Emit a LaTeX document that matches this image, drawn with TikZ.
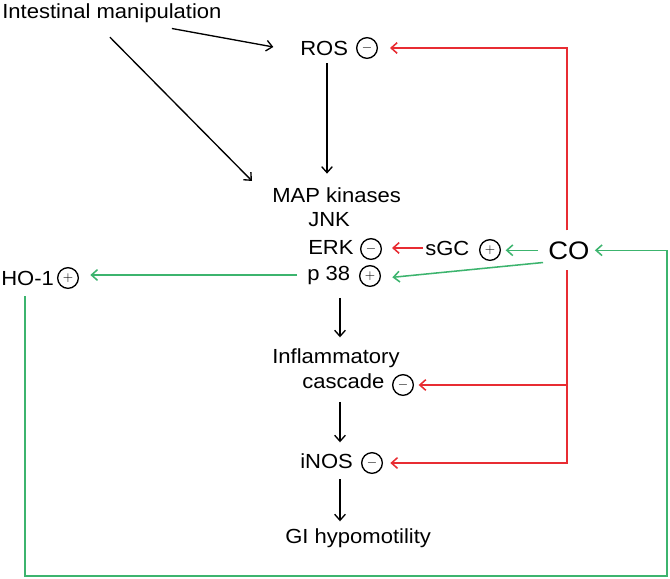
\documentclass[tikz,border=0pt]{standalone}
\usepackage{fontspec}
\setmainfont{Liberation Sans}[FakeStretch=1.08]
\usetikzlibrary{arrows.meta,calc}
\definecolor{cred}{RGB}{232,44,50}
\definecolor{cgreen}{RGB}{60,180,110}
\begin{document}
\begin{tikzpicture}[x=0.75pt,y=-0.75pt,
 txt/.style={inner sep=0pt,anchor=base west,font=\fontsize{15.3}{18}\selectfont},
 bigtxt/.style={txt,font=\fontsize{19}{22}\selectfont},
 sign/.style={circle,draw,line width=1pt,inner sep=0pt,minimum size=15.5pt,font=\fontsize{10}{10}\selectfont},
 barr/.style={line width=1pt,-{Straight Barb[length=4.5pt,width=8pt]}},
 rarr/.style={barr,draw=cred,line width=1.15pt},
 garr/.style={barr,draw=cgreen,line width=1.15pt}]
\fill[white] (0,0) rectangle (670,578);
\useasboundingbox (0,0) rectangle (670,578);
% nodes
\node[txt] (im) at (2,18) {Intestinal manipulation};
\node[txt] (ros) at (300,55) {ROS};
\node[sign] (rosc) at (367,48) {$-$};
\node[txt] (map) at (272,202) {MAP kinases};
\node[txt] (jnk) at (308,226) {JNK};
\node[txt] (erk) at (308,254) {ERK};
\node[sign] (erkc) at (371,249) {$-$};
\node[txt] (sgc) at (425,255) {sGC};
\node[sign] (sgcc) at (490,250) {$+$};
\node[bigtxt] (co) at (548,259) {CO};
\node[txt] (p38) at (307,280) {p 38};
\node[sign] (p38c) at (370,276) {$+$};
\node[txt] (ho1) at (1,285) {HO-1};
\node[sign] (ho1c) at (68,278) {$+$};
\node[txt] (infl) at (272,363) {Inflammatory};
\node[txt] (casc) at (302,388) {cascade};
\node[sign] (cascc) at (403,385) {$-$};
\node[txt] (inos) at (300,468) {iNOS};
\node[sign] (inosc) at (372,463) {$-$};
\node[txt] (gi) at (285,543) {GI hypomotility};
% helper coordinates
\coordinate (rx) at (327,0);
\coordinate (cx) at (340,0);
\coordinate (redx) at (567,0);
\coordinate (gbl) at (25,576);
\coordinate (gbr) at (667,576);
% black connectors
\draw[barr] ([shift={(45pt,-4.5pt)}]im.south) -- ([shift={(-20pt,0.75pt)}]ros.west);
\draw[barr] ([shift={(-1.5pt,-11pt)}]im.south) -- ([shift={(-15pt,4.5pt)}]map.north west);
\draw[barr, shorten <=6pt, shorten >=10pt] (ros.south -| rx) -- (map.north -| rx);
\draw[barr, shorten <=10pt, shorten >=8pt] (p38.south -| cx) -- (infl.north -| cx);
\draw[barr, shorten <=10pt, shorten >=8pt] (casc.south -| cx) -- (inos.north -| cx);
\draw[barr, shorten <=8pt, shorten >=5pt] (inos.south -| cx) -- (gi.north -| cx);
% red connectors
\draw[rarr, shorten <=8pt, shorten >=9pt] (co.north -| redx) |- (rosc);
\draw[rarr, shorten <=8pt, shorten >=5.5pt] (co.south -| redx) |- (inosc);
\draw[rarr, shorten >=3.5pt] (redx |- cascc) -- (cascc);
\draw[rarr, shorten <=1.5pt, shorten >=7.5pt] (sgc.west) -- (sgc.west -| erkc.east);
% green connectors
\draw[garr, shorten <=7.5pt, shorten >=3.5pt] (co.west) -- (co.west -| sgcc.east);
\draw[garr] ([shift={(-3.75pt,-2.25pt)}]co.south west) -- ([shift={(8.5pt,-1pt)}]p38c.east);
\draw[garr, shorten <=7.5pt, shorten >=8.5pt] (p38.west) -- (p38.west -| ho1c.east);
\draw[garr, shorten <=8pt, shorten >=4pt] (ho1.south -| gbl) -- (gbl) -- (gbr) |- (co.east);
\end{tikzpicture}
\end{document}
